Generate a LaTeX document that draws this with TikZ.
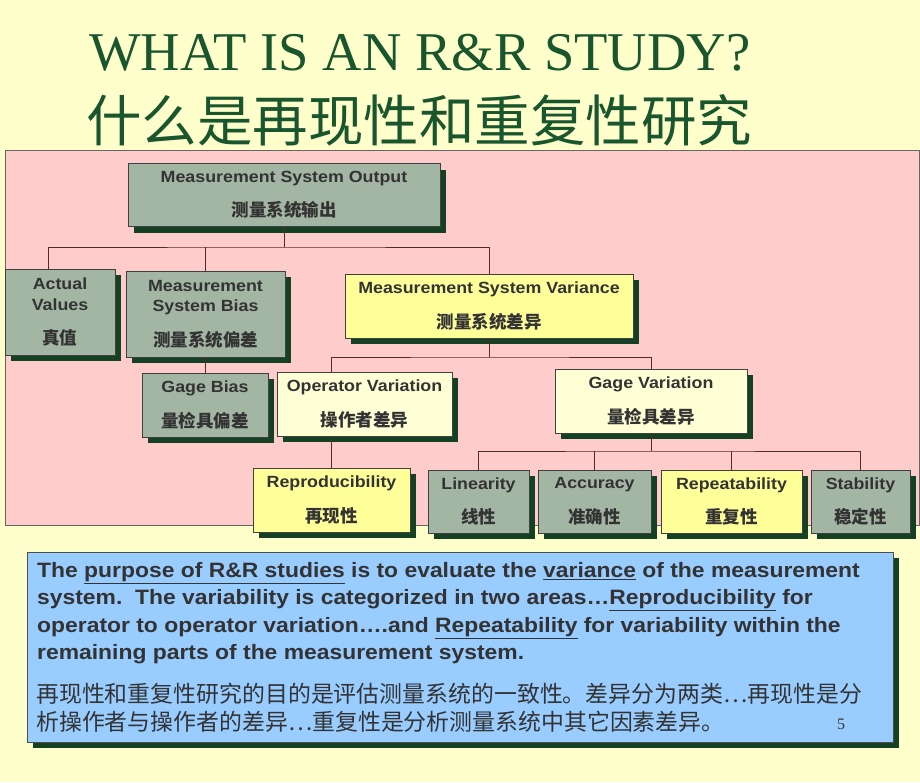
\documentclass[tikz,border=0pt]{standalone}
\usepackage{fontspec}
\setmainfont[FakeStretch=1.1]{Liberation Sans}
\newfontfamily\serifttl{Liberation Serif}
\newfontfamily\cjk{Noto Sans CJK SC}
\usepackage{tikz}
\usetikzlibrary{shadows}

\definecolor{bgyellow}{RGB}{255,255,204}
\definecolor{panelpink}{RGB}{255,204,204}
\definecolor{boxgrey}{RGB}{163,181,163}
\definecolor{boxyellow}{RGB}{255,255,153}
\definecolor{boxcream}{RGB}{255,255,214}
\definecolor{shadowgreen}{RGB}{20,64,36}
\definecolor{noteblue}{RGB}{153,204,255}
\definecolor{textgrey}{RGB}{51,51,51}
\definecolor{titlegreen}{RGB}{25,85,45}
\definecolor{linkbrown}{RGB}{80,45,45}

\newcommand\boxcn[1]{{\cjk\fontsize{17.5}{20}\selectfont #1}}

\tikzstyle{unit} = [rectangle, draw = black!75, line width = 0.8pt, align = center, text = textgrey, font = \fontsize{16.2}{20.5}\selectfont\bfseries, inner sep = 2pt, drop shadow = {shadow xshift = 6pt, shadow yshift = -6pt, fill = shadowgreen, opacity = 1}]
\tikzstyle{greybox} = [unit, fill = boxgrey]
\tikzstyle{yellowbox} = [unit, fill = boxyellow]
\tikzstyle{creambox} = [unit, fill = boxcream]
\tikzstyle{link} = [draw = linkbrown, line width = 1pt]

\begin{document}
\begin{tikzpicture}[x = 1pt, y = -1pt]

% page
\fill [bgyellow] (0,0) rectangle (920,782);
\useasboundingbox (0,0) rectangle (920,782);

% title
\node (title) [anchor = base west, inner sep = 0, text = titlegreen, font = \serifttl\fontsize{54.6}{60}\selectfont] at (89,70) {WHAT IS AN R\&R STUDY?};
\node (titlecn) [anchor = base west, inner sep = 0, text = titlegreen, font = \cjk\fontsize{55.5}{60}\selectfont] at (86,141) {什么是再现性和重复性研究};

% pink panel
\draw [fill = panelpink, draw = black!60, line width = 0.8pt] (5,150) rectangle (919,525);

% boxes
\node (mso) [greybox, minimum width = 312pt, minimum height = 63pt] at (284,195) {Measurement System Output\\[14pt]\boxcn{测量系统输出}};
\node (actual) [greybox, minimum width = 110pt, minimum height = 86pt] at (60,312) {Actual\\Values\\[14pt]\boxcn{真值}};
\node (msb) [greybox, minimum width = 159pt, minimum height = 86pt] at (205.5,314) {Measurement\\System Bias\\[14pt]\boxcn{测量系统偏差}};
\node (msv) [yellowbox, minimum width = 288pt, minimum height = 64pt] at (489,306) {Measurement System Variance\\[14pt]\boxcn{测量系统差异}};
\node (gagebias) [greybox, minimum width = 126pt, minimum height = 64pt] at (205,405) {Gage Bias\\[14pt]\boxcn{量检具偏差}};
\node (opvar) [creambox, minimum width = 175pt, minimum height = 64pt] at (364.5,404) {Operator Variation\\[14pt]\boxcn{操作者差异}};
\node (gagevar) [creambox, minimum width = 192pt, minimum height = 64pt] at (651,401) {Gage Variation\\[14pt]\boxcn{量检具差异}};
\node (repro) [yellowbox, minimum width = 157pt, minimum height = 64pt] at (331.5,500) {Reproducibility\\[14pt]\boxcn{再现性}};
\node (linearity) [greybox, minimum width = 101pt, minimum height = 63pt] at (478.5,501.5) {Linearity\\[14pt]\boxcn{线性}};
\node (accuracy) [greybox, minimum width = 113pt, minimum height = 63pt] at (594.5,501.5) {Accuracy\\[14pt]\boxcn{准确性}};
\node (repeat) [yellowbox, minimum width = 141pt, minimum height = 63pt] at (731.5,501.5) {Repeatability\\[14pt]\boxcn{重复性}};
\node (stability) [greybox, minimum width = 99pt, minimum height = 63pt] at (860.5,501.5) {Stability\\[14pt]\boxcn{稳定性}};

% connectors
\coordinate (bus1) at (284,247);
\coordinate (bus2) at (489,357);
\coordinate (bus3) at (651,451);
\coordinate (drop1) at (48,0);
\draw [link] (mso.south) -- (bus1);
\draw [link] (drop1 |- actual.north) |- (bus1) -| (msv.north);
\draw [link] (msb.north) -- (msb.north |- bus1);
\draw [link] (gagebias.north -| msb.south) -- (msb.south);
\draw [link] (msv.south) -- (bus2);
\draw [link] (repro.north |- opvar.north) |- (bus2) -| (gagevar.north);
\draw [link] (repro.north |- opvar.south) -- (repro.north);
\draw [link] (gagevar.south) -- (bus3);
\draw [link] (linearity.north) |- (bus3) -| (stability.north);
\draw [link] (accuracy.north) -- (accuracy.north |- bus3);
\draw [link] (repeat.north) -- (repeat.north |- bus3);

% note
\node (note) [rectangle, draw = black!70, line width = 0.8pt, fill = noteblue, minimum width = 866pt, minimum height = 190pt, drop shadow = {shadow xshift = 6pt, shadow yshift = -6pt, fill = shadowgreen, opacity = 1}] at (460,647) {};
\node (purpose) [anchor = north west, inner sep = 0, align = left, text = textgrey, font = \fontsize{20.8}{27.5}\selectfont\bfseries] at (37,562)
  {The \underline{purpose of R\&R studies} is to evaluate the \underline{variance} of the measurement\\
   system.\ \ The variability is categorized in two areas…\underline{Reproducibility} for\\
   operator to operator variation….and \underline{Repeatability} for variability within the\\
   remaining parts of the measurement system.};
\node (purposecn) [anchor = north west, inner sep = 0, align = left, text = textgrey, font = \cjk\fontsize{22.9}{28}\selectfont] at (36,683)
  {再现性和重复性研究的目的是评估测量系统的一致性。差异分为两类…再现性是分\\
   析操作者与操作者的差异…重复性是分析测量系统中其它因素差异。};
\node (pagenum) [anchor = base west, inner sep = 0, text = textgrey, font = \serifttl\fontsize{16}{18}\selectfont] at (837,729) {5};

\end{tikzpicture}
\end{document}
